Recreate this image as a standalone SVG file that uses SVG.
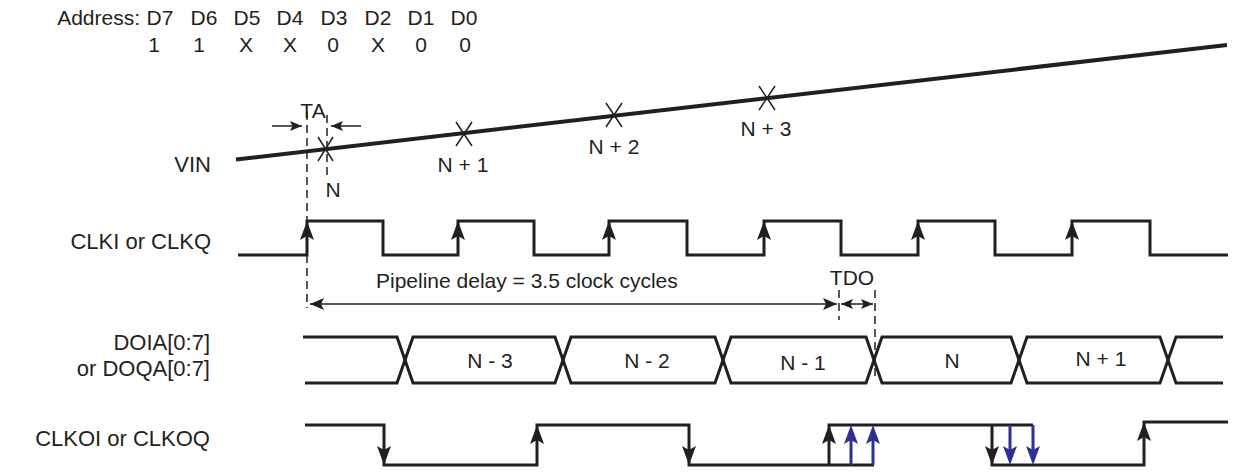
<svg xmlns="http://www.w3.org/2000/svg" width="1239" height="474" viewBox="0 0 1239 474">
<style>
text{font-family:"Liberation Sans",Arial,Helvetica,sans-serif;font-size:21px;fill:#231f20}
.r{text-anchor:end}
.m{text-anchor:middle}
.lb{font-size:22px}
.w{fill:none;stroke:#231f20;stroke-width:3;stroke-linejoin:miter}
.vin{fill:none;stroke:#231f20;stroke-width:4}
.thin{fill:none;stroke:#231f20;stroke-width:1.5}
.dash{fill:none;stroke:#231f20;stroke-width:1.5;stroke-dasharray:8 5}
.blue{fill:none;stroke:#2e3192;stroke-width:3}
.ah{fill:#231f20}
.bh{fill:#2e3192}
</style>
<defs>
<path id="up" d="M0,0 L7,19 L0,15 L-7,19 Z"/>
<path id="dn" d="M0,0 L7,-19 L0,-15 L-7,-19 Z"/>
<marker id="a" viewBox="0 0 14 12" refX="14" refY="6" markerWidth="14" markerHeight="12" markerUnits="userSpaceOnUse" orient="auto-start-reverse"><path d="M0,0 L14,6 L0,12 L3,6 Z" fill="#231f20"/></marker>
<marker id="as" viewBox="0 0 12 10" refX="12" refY="5" markerWidth="12" markerHeight="10" markerUnits="userSpaceOnUse" orient="auto-start-reverse"><path d="M0,0 L12,5 L0,10 L2.5,5 Z" fill="#231f20"/></marker>
</defs>

<g id="address">
<text class="r" x="140" y="25">Address:</text>
<text class="m" x="160" y="25">D7</text>
<text class="m" x="204" y="25">D6</text>
<text class="m" x="247" y="25">D5</text>
<text class="m" x="290" y="25">D4</text>
<text class="m" x="334" y="25">D3</text>
<text class="m" x="378" y="25">D2</text>
<text class="m" x="421" y="25">D1</text>
<text class="m" x="464" y="25">D0</text>
<text class="m" x="154" y="52">1</text>
<text class="m" x="199" y="52">1</text>
<text class="m" x="246" y="52">X</text>
<text class="m" x="290" y="52">X</text>
<text class="m" x="333" y="52">0</text>
<text class="m" x="378" y="52">X</text>
<text class="m" x="421" y="52">0</text>
<text class="m" x="465" y="52">0</text>
</g>

<g id="labels">
<text class="r lb" x="211" y="172">VIN</text>
<text class="r lb" x="211" y="249">CLKI or CLKQ</text>
<text class="r lb" x="210" y="350">DOIA[0:7]</text>
<text class="r lb" x="210" y="376">or DOQA[0:7]</text>
<text class="r lb" x="210" y="446">CLKOI or CLKOQ</text>
</g>

<g id="vin">
<path class="vin" d="M236,159.5 L1227,45"/>
<path class="thin" d="M318,137 L333,161 M333,137 L318,161"/>
<path class="thin" d="M456,122 L472,146 M472,122 L456,146"/>
<path class="thin" d="M606,103 L622,127 M622,103 L606,127"/>
<path class="thin" d="M759,86 L775,110 M775,86 L759,110"/>
<text class="m" x="333" y="197">N</text>
<text class="m" x="463" y="172">N + 1</text>
<text class="m" x="614" y="154">N + 2</text>
<text class="m" x="766" y="136">N + 3</text>
</g>

<g id="clki">
<path class="w" d="M238,255 H307 V221 H383 V255 H458 V221 H534 V255 H609 V221 H687 V255 H764 V221 H841 V255 H918 V221 H995 V255 H1072 V221 H1150 V255 H1228"/>
<use href="#up" class="ah" x="307" y="221"/>
<use href="#up" class="ah" x="458" y="221"/>
<use href="#up" class="ah" x="609" y="221"/>
<use href="#up" class="ah" x="764" y="221"/>
<use href="#up" class="ah" x="918" y="221"/>
<use href="#up" class="ah" x="1072" y="221"/>
</g>

<g id="doia">
<path class="w" d="M303,337 H397 L405,360 L397,383 H305"/>
<path class="w" d="M405,360 L413,337 H555 L563,360 L555,383 H413 Z"/>
<path class="w" d="M563,360 L571,337 H715 L723,360 L715,383 H571 Z"/>
<path class="w" d="M723,360 L731,337 H866 L874,360 L866,383 H731 Z"/>
<path class="w" d="M874,360 L882,337 H1011 L1019,360 L1011,383 H882 Z"/>
<path class="w" d="M1019,360 L1027,337 H1160 L1168,360 L1160,383 H1027 Z"/>
<path class="w" d="M1223,337 H1176 L1168,360 L1176,383 H1223"/>
<text class="m" x="490" y="368">N - 3</text>
<text class="m" x="647" y="368">N - 2</text>
<text class="m" x="803" y="370">N - 1</text>
<text class="m" x="952" y="368">N</text>
<text class="m" x="1101" y="366">N + 1</text>
</g>

<g id="clkoi">
<path class="w" d="M305,425 H384 V465 H537 V425 H689 V465 H874"/>
<path class="w" d="M829,465 V425 H1033"/>
<path class="w" d="M992,425 V465 H1144 V422 H1228"/>
<use href="#dn" class="ah" x="384" y="465"/>
<use href="#up" class="ah" x="537" y="425"/>
<use href="#dn" class="ah" x="689" y="465"/>
<use href="#up" class="ah" x="829" y="425"/>
<use href="#dn" class="ah" x="992" y="465"/>
<use href="#up" class="ah" x="1144" y="422"/>
<path class="blue" d="M851,465 V435 M873,465 V435 M1010,425 V455 M1033,425 V455"/>
<use href="#up" class="bh" x="851" y="425"/>
<use href="#up" class="bh" x="873" y="425"/>
<use href="#dn" class="bh" x="1010" y="465"/>
<use href="#dn" class="bh" x="1033" y="465"/>
</g>

<g id="connectors">
<path class="dash" d="M307,112 V308"/>
<path class="dash" d="M327,115 V180"/>
<path class="thin" d="M272,126 H302" marker-end="url(#as)"/>
<path class="thin" d="M361,126 H331" marker-end="url(#as)"/>
<text class="m" x="313" y="118">TA</text>
<path class="thin" d="M310,304 H837" marker-start="url(#a)" marker-end="url(#a)"/>
<text x="376" y="288">Pipeline delay = 3.5 clock cycles</text>
<path class="dash" d="M839,290 V320"/>
<path class="dash" d="M875,290 V380"/>
<path class="thin" d="M841,304 H873" marker-start="url(#as)" marker-end="url(#as)"/>
<text class="m" x="852" y="285">TDO</text>
</g>
</svg>
